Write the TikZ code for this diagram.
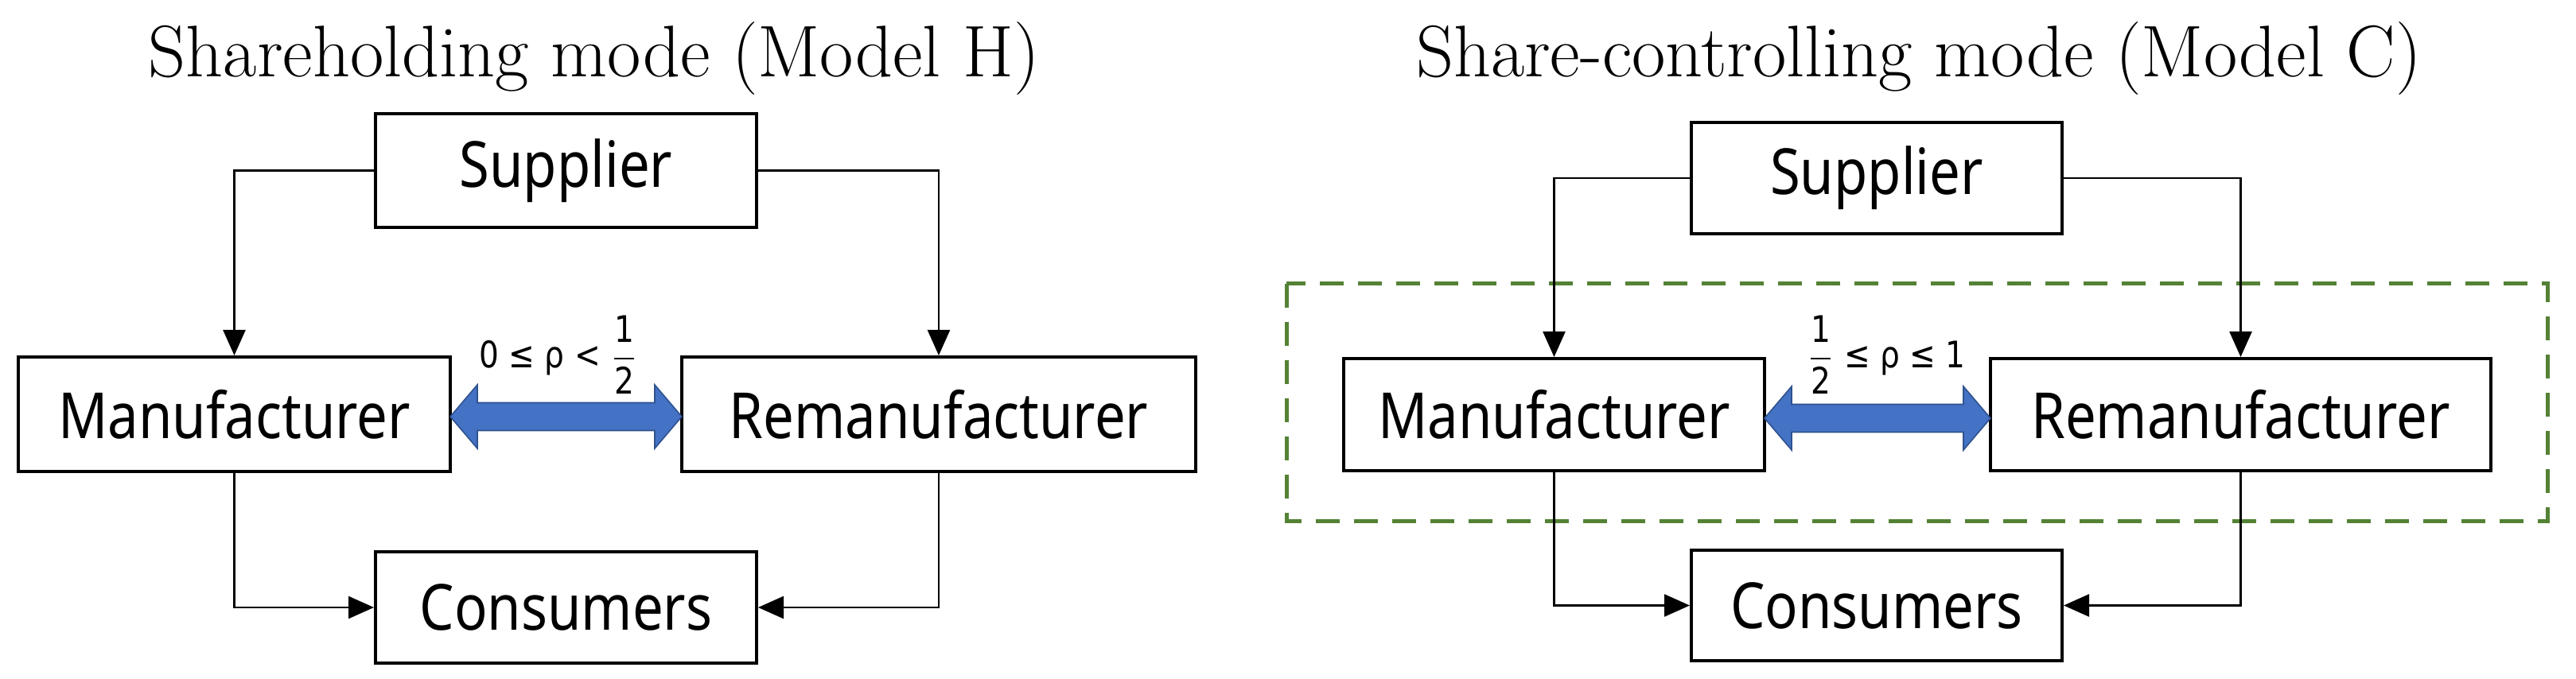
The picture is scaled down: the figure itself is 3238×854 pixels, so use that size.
\documentclass[tikz,border=0pt]{standalone}
\usepackage{fontspec}
\usetikzlibrary{arrows.meta}
\newfontfamily\boxfont[FakeStretch=0.86]{Noto Sans}
\newfontfamily\lblfont[FakeStretch=0.85]{DejaVu Sans}
\definecolor{arrowblue}{HTML}{4472C4}
\definecolor{arrowedge}{HTML}{2F528F}
\definecolor{dashgreen}{HTML}{548235}
\tikzset{
  box/.style={draw, line width=1pt, inner sep=0pt, font=\boxfont\fontsize{20}{24}\selectfont},
  conn/.style={line width=0.6pt, -{Triangle[length=8pt,width=7pt]}},
  ttl/.style={anchor=base, font=\fontsize{23}{27}\selectfont},
  lbl/.style={anchor=base, inner sep=0pt, font=\lblfont\fontsize{11.5}{13}\selectfont},
  blue arrow/.style={fill=arrowblue, draw=arrowedge, line width=0.4pt},
}
\begin{document}
\begin{tikzpicture}[x=0.25pt,y=-0.25pt]
\useasboundingbox (0,0) rectangle (3238,854);
% ---------- left panel ----------
\node[ttl] (t1) at (747,97) {Shareholding mode (Model H)};
\node[box, minimum width=119.75pt, minimum height=35.75pt] (s1) at (711.5,214.5) {Supplier};
\node[box, minimum width=135.75pt, minimum height=36pt] (m1) at (294.5,521) {Manufacturer};
\node[box, minimum width=161.5pt, minimum height=36pt] (r1) at (1180,521) {Remanufacturer};
\node[box, minimum width=119.75pt, minimum height=35pt] (c1) at (711.5,764) {Consumers};
\draw[conn] (s1.west) -| (m1.north);
\draw[conn] (s1.east) -| (r1.north);
\draw[conn] (m1.south) |- (c1.west);
\draw[conn] (r1.south) |- (c1.east);
\draw[blue arrow] (566,524) -- (600,484) -- (600,506.5) -- (823,506.5) -- (823,484) -- (857,524)
  -- (823,564) -- (823,541.5) -- (600,541.5) -- (600,564) -- cycle;
\node[lbl] (l1) at (702,463) {0 ≤ ρ < $\displaystyle\frac{\mbox{\lblfont 1}}{\mbox{\lblfont 2}}$};
% ---------- right panel ----------
\node[ttl] (t2) at (2412,97) {Share-controlling mode (Model C)};
\draw[dashgreen, line width=1.25pt, dash pattern=on 7.5pt off 4.5pt] (1617,357) rectangle (3202,656);
\node[box, minimum width=116.5pt, minimum height=35pt] (s2) at (2359,224) {Supplier};
\node[box, minimum width=132.25pt, minimum height=35.25pt] (m2) at (1953.5,521.5) {Manufacturer};
\node[box, minimum width=157.25pt, minimum height=35.25pt] (r2) at (2816.5,521.5) {Remanufacturer};
\node[box, minimum width=116.5pt, minimum height=34.75pt] (c2) at (2359,761.5) {Consumers};
\draw[conn] (s2.west) -| (m2.north);
\draw[conn] (s2.east) -| (r2.north);
\draw[conn] (m2.south) |- (c2.west);
\draw[conn] (r2.south) |- (c2.east);
\draw[blue arrow] (2218,526) -- (2252,486) -- (2252,508.5) -- (2468,508.5) -- (2468,486) -- (2502,526)
  -- (2468,566) -- (2468,543.5) -- (2252,543.5) -- (2252,566) -- cycle;
\node[lbl] (l2) at (2371,463) {$\displaystyle\frac{\mbox{\lblfont 1}}{\mbox{\lblfont 2}}$ ≤ ρ ≤ 1};
\end{tikzpicture}
\end{document}
